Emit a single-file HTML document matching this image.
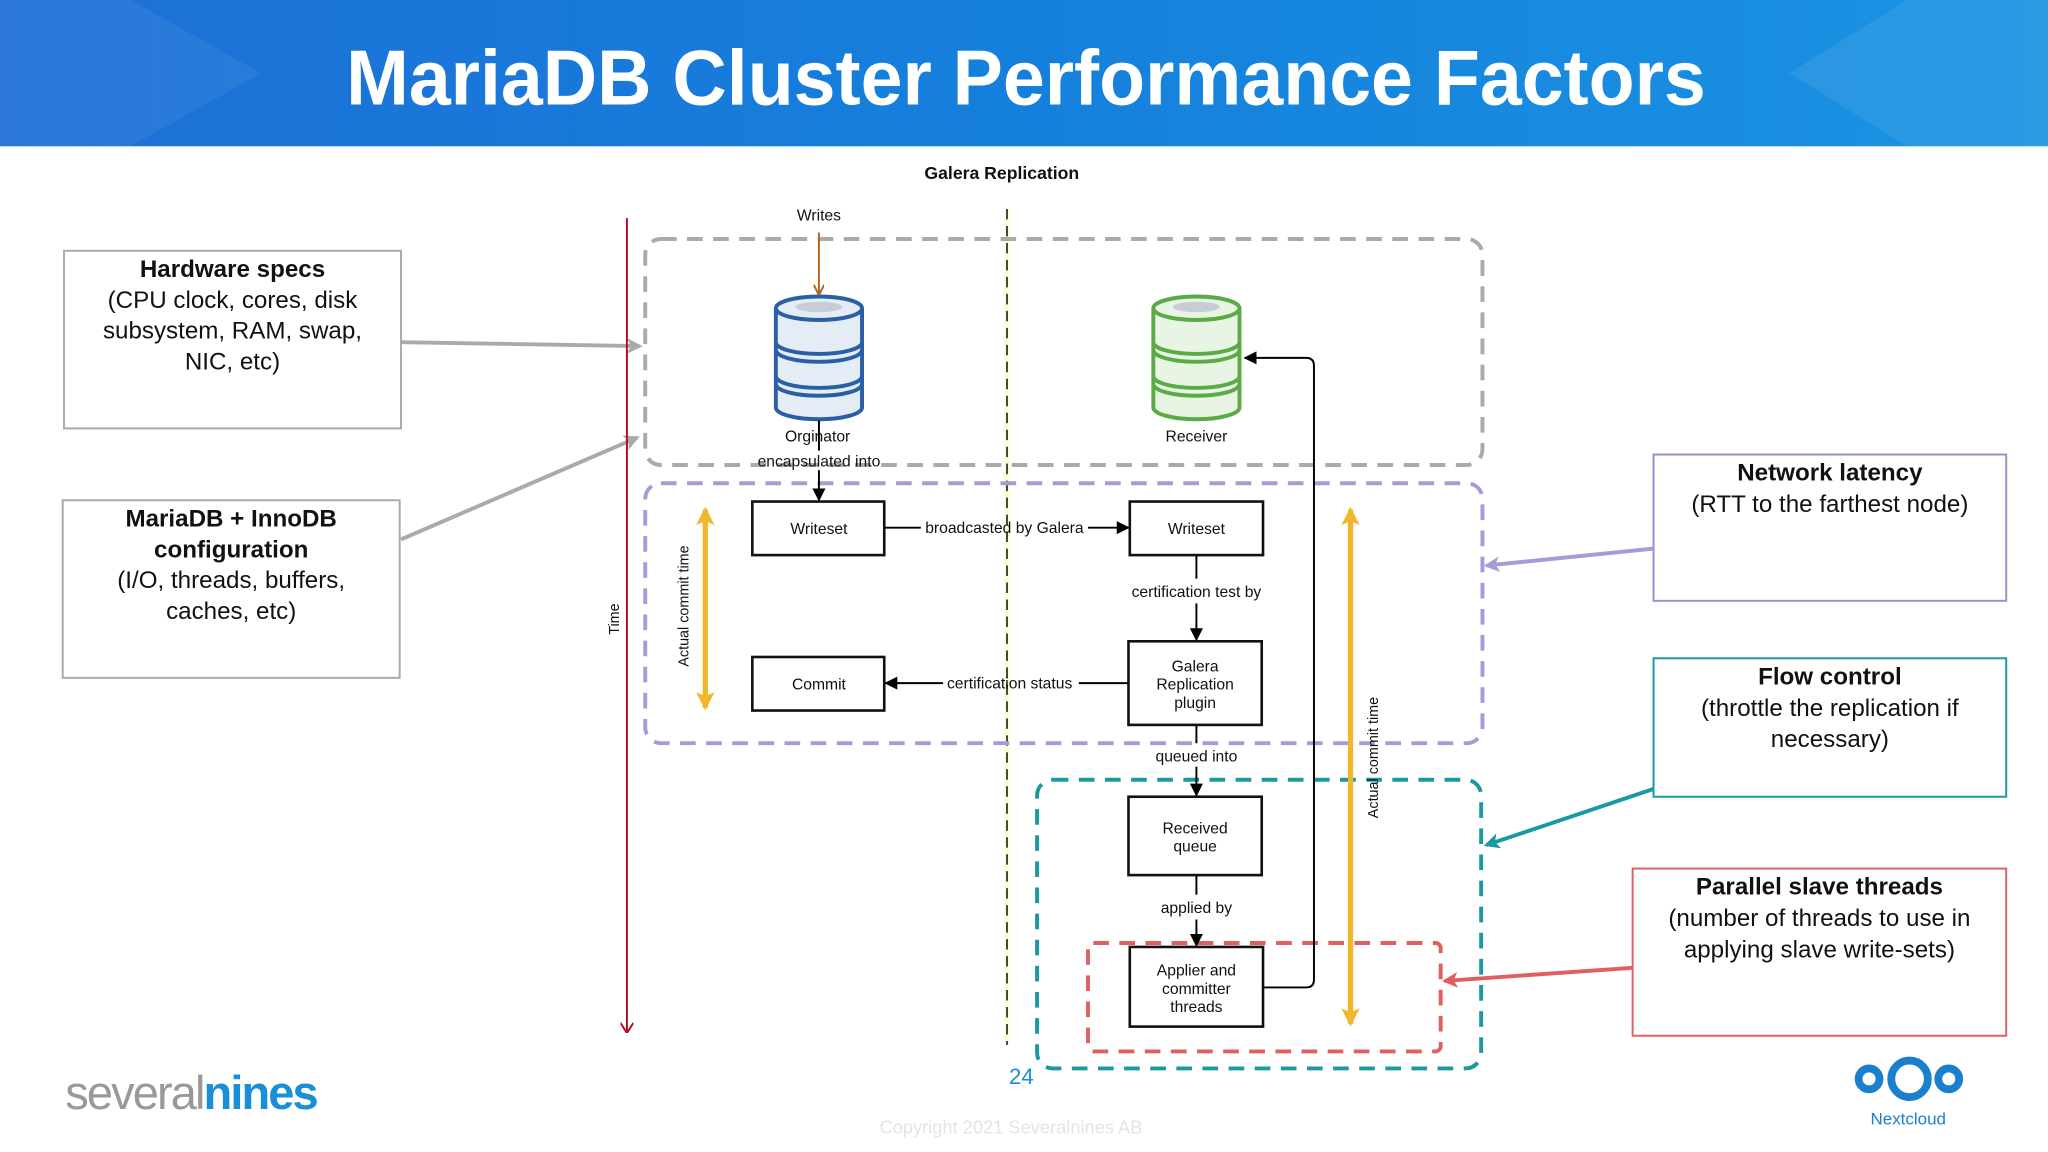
<!DOCTYPE html>
<html><head><meta charset="utf-8"><style>
html,body{margin:0;padding:0;background:#fff;}
svg{display:block;}
text{font-family:"Liberation Sans",sans-serif;}
</style></head><body>
<svg width="2048" height="1152" viewBox="0 0 1568 882" xmlns="http://www.w3.org/2000/svg">
<defs>
<linearGradient id="hg" x1="0" x2="1" y1="0" y2="0">
<stop offset="0" stop-color="#1d6fd6"/><stop offset="0.5" stop-color="#1580dc"/><stop offset="1" stop-color="#1a93e2"/>
</linearGradient>
<marker id="ab" markerWidth="10" markerHeight="10" refX="9" refY="5" orient="auto" markerUnits="userSpaceOnUse"><path d="M0,0 L10,5 L0,10 z" fill="#000"/></marker>
<marker id="ao" markerWidth="8" markerHeight="8" refX="7" refY="4" orient="auto" markerUnits="userSpaceOnUse"><path d="M0,0 L8,4 L0,8" fill="none" stroke="#b5651d" stroke-width="1.5"/></marker>
<marker id="ar" markerWidth="8" markerHeight="10" refX="7" refY="5" orient="auto" markerUnits="userSpaceOnUse"><path d="M0,0 L8,5 L0,10" fill="none" stroke="#b01020" stroke-width="1.5"/></marker>
<marker id="ag" markerWidth="12" markerHeight="12" refX="10" refY="6" orient="auto" markerUnits="userSpaceOnUse"><path d="M0,0 L12,6 L0,12 L3,6 z" fill="#aaa"/></marker>
<marker id="ap" markerWidth="12" markerHeight="12" refX="10" refY="6" orient="auto" markerUnits="userSpaceOnUse"><path d="M0,0 L12,6 L0,12 L3,6 z" fill="#a89ad8"/></marker>
<marker id="at" markerWidth="12" markerHeight="12" refX="10" refY="6" orient="auto" markerUnits="userSpaceOnUse"><path d="M0,0 L12,6 L0,12 L3,6 z" fill="#1a9aa0"/></marker>
<marker id="arr" markerWidth="12" markerHeight="12" refX="10" refY="6" orient="auto" markerUnits="userSpaceOnUse"><path d="M0,0 L12,6 L0,12 L3,6 z" fill="#e06060"/></marker>
<marker id="ay" markerWidth="14" markerHeight="14" refX="12" refY="7" orient="auto" markerUnits="userSpaceOnUse"><path d="M0,0 L14,7 L0,14 L3,7 z" fill="#f0b72a"/></marker>
<marker id="ays" markerWidth="14" markerHeight="14" refX="2" refY="7" orient="auto" markerUnits="userSpaceOnUse"><path d="M14,0 L0,7 L14,14 L11,7 z" fill="#f0b72a"/></marker>
</defs>
<rect x="0" y="0" width="1568" height="112" fill="url(#hg)"/>
<path d="M0,0 L100,0 L200,56 L100,112 L0,112 z" fill="#fff" opacity="0.06"/>
<path d="M1568,0 L1460,0 L1370,56 L1460,112 L1568,112 z" fill="#fff" opacity="0.08"/>
<text x="265" y="80" font-size="60" font-weight="bold" fill="#fff" textLength="1041" lengthAdjust="spacingAndGlyphs">MariaDB Cluster Performance Factors</text>

<!-- left boxes -->
<rect x="49" y="192" width="258" height="136" fill="#fff" stroke="#aaa" stroke-width="1.5"/>
<g font-size="18.5" text-anchor="middle" fill="#111">
<text x="178" y="212" font-weight="bold">Hardware specs</text>
<text x="178" y="236">(CPU clock, cores, disk</text>
<text x="178" y="259">subsystem, RAM, swap,</text>
<text x="178" y="283">NIC, etc)</text>
</g>
<rect x="48" y="383" width="258" height="136" fill="#fff" stroke="#aaa" stroke-width="1.5"/>
<g font-size="18.5" text-anchor="middle" fill="#111">
<text x="177" y="403" font-weight="bold">MariaDB + InnoDB</text>
<text x="177" y="427" font-weight="bold">configuration</text>
<text x="177" y="450">(I/O, threads, buffers,</text>
<text x="177" y="474">caches, etc)</text>
</g>
<!-- right boxes -->
<rect x="1266" y="348" width="270" height="112" fill="#fff" stroke="#9b8fc8" stroke-width="1.5"/>
<g font-size="18.5" text-anchor="middle" fill="#111">
<text x="1401" y="368" font-weight="bold">Network latency</text>
<text x="1401" y="392">(RTT to the farthest node)</text>
</g>
<rect x="1266" y="504" width="270" height="106" fill="#fff" stroke="#1a9aa0" stroke-width="1.5"/>
<g font-size="18.5" text-anchor="middle" fill="#111">
<text x="1401" y="524" font-weight="bold">Flow control</text>
<text x="1401" y="548">(throttle the replication if</text>
<text x="1401" y="572">necessary)</text>
</g>
<rect x="1250" y="665" width="286" height="128" fill="#fff" stroke="#e06060" stroke-width="1.5"/>
<g font-size="18.5" text-anchor="middle" fill="#111">
<text x="1393" y="685" font-weight="bold">Parallel slave threads</text>
<text x="1393" y="709">(number of threads to use in</text>
<text x="1393" y="733">applying slave write-sets)</text>
</g>

<!-- connectors from boxes -->
<line x1="307" y1="262" x2="490" y2="265" stroke="#aaa" stroke-width="3" marker-end="url(#ag)"/>
<line x1="307" y1="413" x2="488" y2="335" stroke="#aaa" stroke-width="3" marker-end="url(#ag)"/>
<line x1="1266" y1="420" x2="1138" y2="433" stroke="#a89ad8" stroke-width="3" marker-end="url(#ap)"/>
<line x1="1266" y1="604" x2="1138" y2="647" stroke="#1a9aa0" stroke-width="3" marker-end="url(#at)"/>
<line x1="1250" y1="741" x2="1106" y2="751" stroke="#e06060" stroke-width="3" marker-end="url(#arr)"/>

<!-- diagram -->
<text x="767" y="137" text-anchor="middle" font-size="13.5" font-weight="bold" fill="#111">Galera Replication</text>
<line x1="480" y1="167" x2="480" y2="790" stroke="#b01020" stroke-width="1.5" marker-end="url(#ar)"/>
<text transform="translate(474,474) rotate(-90)" text-anchor="middle" font-size="11" fill="#111">Time</text>
<line x1="771" y1="160" x2="771" y2="800" stroke="#fdfbd0" stroke-width="4"/>
<line x1="771" y1="160" x2="771" y2="800" stroke="#444" stroke-width="1.5" stroke-dasharray="8 5"/>

<rect x="494" y="183" width="641" height="173" rx="12" fill="none" stroke="#aaa" stroke-width="3" stroke-dasharray="12 8"/>
<rect x="494" y="370" width="641" height="199" rx="12" fill="none" stroke="#a89ad8" stroke-width="3" stroke-dasharray="12 8"/>
<rect x="794" y="597" width="340" height="221" rx="12" fill="none" stroke="#1a9aa0" stroke-width="3" stroke-dasharray="12 8"/>
<rect x="833" y="722" width="270" height="83" rx="4" fill="none" stroke="#e06060" stroke-width="3" stroke-dasharray="12 8"/>

<text x="627" y="169" text-anchor="middle" font-size="12" fill="#111">Writes</text>
<line x1="627" y1="178" x2="627" y2="225" stroke="#b5651d" stroke-width="1.5" marker-end="url(#ao)"/>

<!-- cylinders -->
<g stroke="#2b5fa5" stroke-width="3" fill="#e4ecf6">
<path d="M594,236 L594,312 A33,9 0 0 0 660,312 L660,236"/>
<ellipse cx="627" cy="236" rx="33" ry="9"/>
<path d="M594,262 A33,9 0 0 0 660,262" fill="none"/>
<path d="M594,268 A33,9 0 0 0 660,268" fill="none"/>
<path d="M594,288 A33,9 0 0 0 660,288" fill="none"/>
<path d="M594,294 A33,9 0 0 0 660,294" fill="none"/>
</g>
<ellipse cx="627" cy="235" rx="18" ry="4" fill="#c8ccd4"/>
<g stroke="#5aab46" stroke-width="3" fill="#e8f4e4">
<path d="M883,236 L883,312 A33,9 0 0 0 949,312 L949,236"/>
<ellipse cx="916" cy="236" rx="33" ry="9"/>
<path d="M883,262 A33,9 0 0 0 949,262" fill="none"/>
<path d="M883,268 A33,9 0 0 0 949,268" fill="none"/>
<path d="M883,288 A33,9 0 0 0 949,288" fill="none"/>
<path d="M883,294 A33,9 0 0 0 949,294" fill="none"/>
</g>
<ellipse cx="916" cy="235" rx="18" ry="4" fill="#c8ccd4"/>
<text x="626" y="338" text-anchor="middle" font-size="12" fill="#111">Orginator</text>
<text x="916" y="338" text-anchor="middle" font-size="12" fill="#111">Receiver</text>
<line x1="627" y1="322" x2="627" y2="345" stroke="#000" stroke-width="1.5"/>
<text x="627" y="357" text-anchor="middle" font-size="12" fill="#111">encapsulated into</text>
<line x1="627" y1="360" x2="627" y2="383" stroke="#000" stroke-width="1.5" marker-end="url(#ab)"/>

<g fill="#fff" stroke="#111" stroke-width="2">
<rect x="576" y="384" width="101" height="41"/>
<rect x="865" y="384" width="102" height="41"/>
<rect x="576" y="503" width="101" height="41"/>
<rect x="864" y="491" width="102" height="64"/>
<rect x="864" y="610" width="102" height="60"/>
<rect x="865" y="725" width="102" height="61"/>
</g>
<g font-size="12" text-anchor="middle" fill="#111">
<text x="627" y="409">Writeset</text>
<text x="916" y="409">Writeset</text>
<text x="627" y="528">Commit</text>
<text x="915" y="514">Galera</text>
<text x="915" y="528">Replication</text>
<text x="915" y="542">plugin</text>
<text x="915" y="638">Received</text>
<text x="915" y="652">queue</text>
<text x="916" y="747">Applier and</text>
<text x="916" y="761">committer</text>
<text x="916" y="775">threads</text>
</g>
<!-- edges -->
<line x1="677" y1="404" x2="705" y2="404" stroke="#000" stroke-width="1.5"/>
<line x1="833" y1="404" x2="864" y2="404" stroke="#000" stroke-width="1.5" marker-end="url(#ab)"/>
<text x="769" y="408" text-anchor="middle" font-size="12" fill="#111">broadcasted by Galera</text>
<line x1="916" y1="425" x2="916" y2="443" stroke="#000" stroke-width="1.5"/>
<text x="916" y="457" text-anchor="middle" font-size="12" fill="#111">certification test by</text>
<line x1="916" y1="462" x2="916" y2="490" stroke="#000" stroke-width="1.5" marker-end="url(#ab)"/>
<line x1="864" y1="523" x2="826" y2="523" stroke="#000" stroke-width="1.5"/>
<line x1="722" y1="523" x2="678" y2="523" stroke="#000" stroke-width="1.5" marker-end="url(#ab)"/>
<text x="773" y="527" text-anchor="middle" font-size="12" fill="#111">certification status</text>
<line x1="916" y1="555" x2="916" y2="569" stroke="#000" stroke-width="1.5"/>
<text x="916" y="583" text-anchor="middle" font-size="12" fill="#111">queued into</text>
<line x1="916" y1="587" x2="916" y2="609" stroke="#000" stroke-width="1.5" marker-end="url(#ab)"/>
<line x1="916" y1="670" x2="916" y2="685" stroke="#000" stroke-width="1.5"/>
<text x="916" y="699" text-anchor="middle" font-size="12" fill="#111">applied by</text>
<line x1="916" y1="704" x2="916" y2="724" stroke="#000" stroke-width="1.5" marker-end="url(#ab)"/>
<path d="M967,756 L1000,756 Q1006,756 1006,750 L1006,280 Q1006,274 1000,274 L953,274" fill="none" stroke="#000" stroke-width="1.5" marker-end="url(#ab)"/>

<!-- yellow arrows -->
<line x1="540" y1="390" x2="540" y2="542" stroke="#f0b72a" stroke-width="4" marker-end="url(#ay)" marker-start="url(#ays)"/>
<line x1="1034" y1="390" x2="1034" y2="784" stroke="#f0b72a" stroke-width="4" marker-end="url(#ay)" marker-start="url(#ays)"/>
<text transform="translate(527,464) rotate(-90)" text-anchor="middle" font-size="11" fill="#111">Actual commit time</text>
<text transform="translate(1055,580) rotate(-90)" text-anchor="middle" font-size="11" fill="#111">Actual commit time</text>

<!-- footer -->
<text x="782" y="830" text-anchor="middle" font-size="17" fill="#1a8fd8">24</text>
<text x="774" y="868" text-anchor="middle" font-size="14" fill="#e4e4e4">Copyright 2021 Severalnines AB</text>
<text x="50" y="849" font-size="36" fill="#999" letter-spacing="-2" textLength="192">several<tspan fill="#1a8fd8" font-weight="bold">nines</tspan></text>
<g fill="none" stroke="#1a7fcc" stroke-width="6">
<circle cx="1431" cy="826" r="8"/>
<circle cx="1462" cy="826" r="14"/>
<circle cx="1492" cy="826" r="8"/>
</g>
<text x="1461" y="861" text-anchor="middle" font-size="13" fill="#1a7fcc">Nextcloud</text>
</svg>
</body></html>
